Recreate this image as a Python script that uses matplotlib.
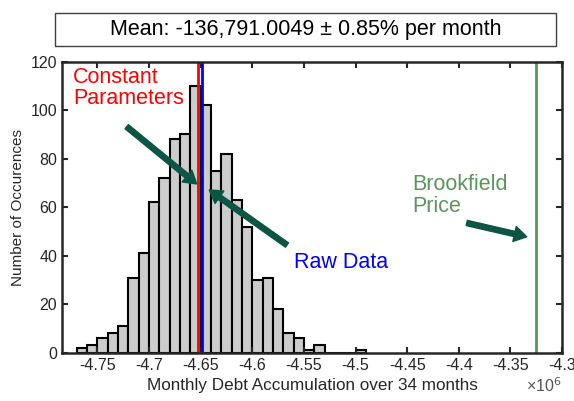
import numpy as np
import matplotlib
matplotlib.use('Agg')
import matplotlib.pyplot as plt
from matplotlib.patches import Rectangle
from matplotlib.ticker import FuncFormatter

plt.rcParams['font.family'] = ['Liberation Sans', 'DejaVu Sans']
plt.rcParams['axes.unicode_minus'] = False

# Данные гистограммы (левый край первого бина, ширина бина, количество в бинах)
bin_start = -4.77e6
bin_width = 1e4
counts = [2, 3, 6, 8, 11, 31, 41, 62, 72, 88, 90, 110, 102, 75,
          82, 63, 52, 30, 31, 18, 8, 6, 1, 3, 0, 0, 0, 1]

# Вертикальные линии
constant_params = -4.6522e6
raw_data = -4.6485e6
brookfield_price = -4.3255e6

title_text = 'Mean: -136,791.0049 \u00b1 0.85% per month'
x_label = 'Monthly Debt Accumulation over 34 months'
y_label = 'Number of Occurences'
x_ticks = [-4.75e6, -4.7e6, -4.65e6, -4.6e6, -4.55e6, -4.5e6, -4.45e6, -4.4e6, -4.35e6, -4.3e6]
y_ticks = [0, 20, 40, 60, 80, 100, 120]

edges = bin_start + bin_width * np.arange(len(counts) + 1)

arrow_color = '#0b5545'
green = '#5a965a'
text_gray = '#262626'

fig = plt.figure(figsize=(5.74, 4.01), dpi=100)
ax = fig.add_axes([0.108, 0.1204, 0.871, 0.7257])

ax.bar(edges[:-1], counts, width=bin_width, align='edge',
       color='#cccccc', edgecolor='black', linewidth=1.5)

ax.axvline(raw_data, color='blue', linewidth=2)
ax.axvline(constant_params, color='red', linewidth=2)
ax.axvline(brookfield_price, color=green, linewidth=2)

ax.set_xlim(-4.7844e6, -4.3e6)
ax.set_ylim(0, 120)
ax.set_xticks(x_ticks)
ax.set_yticks(y_ticks)
ax.xaxis.set_major_formatter(FuncFormatter(lambda v, p: f'{v / 1e6:g}'))

ax.tick_params(direction='in', top=True, right=True, length=4, width=1.5,
               labelsize=11.5, colors=text_gray, labelcolor=text_gray)
for s in ax.spines.values():
    s.set_linewidth(1.8)
    s.set_color('#262626')

ax.set_xlabel(x_label, fontsize=12.3, color=text_gray, labelpad=4)
ax.set_ylabel(y_label, fontsize=11, color=text_gray, labelpad=4)
ax.text(1.0, -0.114, '\u00d710$^6$', transform=ax.transAxes, ha='right', va='center',
        fontsize=11.5, color='#555555')

# Подписи и стрелки
ax.text(-4.7737e6, 118, 'Constant\nParameters', color='red', fontsize=15.5,
        va='top', ha='left', linespacing=1.05)
ax.text(-4.5593e6, 37, 'Raw Data', color='blue', fontsize=15.5, va='center', ha='left')
ax.text(-4.4446e6, 73.5, 'Brookfield\nPrice', color=green, fontsize=15.5,
        va='top', ha='left', linespacing=1.05)

arrow_kw = dict(arrowstyle='simple,head_length=0.9,head_width=1.1,tail_width=0.38',
                color=arrow_color, shrinkA=0, shrinkB=0)
ax.annotate('', xy=(-4.6539e6, 69.6), xytext=(-4.7217e6, 93.2), arrowprops=arrow_kw)
ax.annotate('', xy=(-4.6417e6, 67.1), xytext=(-4.5664e6, 44.4), arrowprops=arrow_kw)
ax.annotate('', xy=(-4.3341e6, 47.8), xytext=(-4.3922e6, 53.5), arrowprops=arrow_kw)

# Рамка с заголовком
fig.patches.append(Rectangle((55 / 574, 1 - 46 / 401), 501 / 574, 33 / 401,
                             transform=fig.transFigure, facecolor='white',
                             edgecolor='#404040', linewidth=1))
fig.text((55 + 556) / 2 / 574, 1 - 29.5 / 401, title_text, ha='center', va='center',
         fontsize=15.5, color='black')

fig.savefig('out.png', dpi=100)
